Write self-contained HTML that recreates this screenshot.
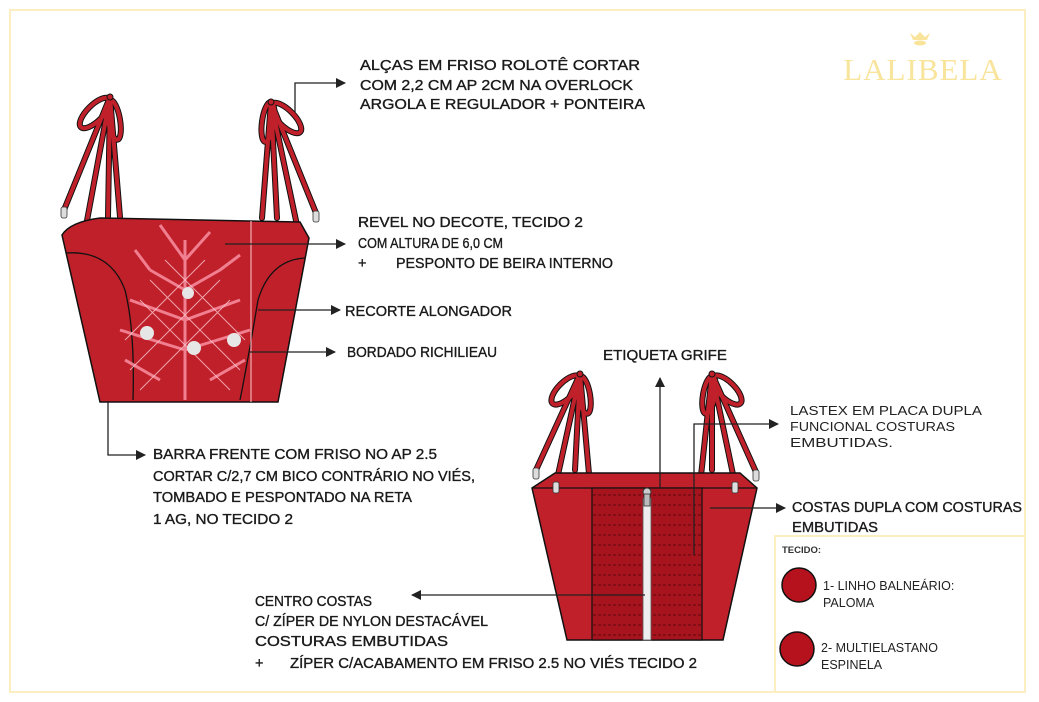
<!DOCTYPE html>
<html><head><meta charset="utf-8"><style>
body{margin:0;background:#fff;}
svg{display:block;}
.t{font-family:"Liberation Sans",sans-serif;font-size:14.5px;fill:#1a1a1a;stroke:#1a1a1a;stroke-width:0.35;}
.s{font-family:"Liberation Sans",sans-serif;font-size:12.5px;fill:#222;}
</style></head><body>
<svg width="1039" height="702" viewBox="0 0 1039 702" xmlns="http://www.w3.org/2000/svg">
<defs>
<marker id="a" markerWidth="10" markerHeight="10" refX="9" refY="5" orient="auto" markerUnits="userSpaceOnUse"><path d="M0,0 L10,5 L0,10 Z" fill="#222"/></marker>
</defs>
<rect x="0" y="0" width="1039" height="702" fill="#fff"/>
<rect x="10" y="10" width="1015" height="682" fill="none" stroke="#fbeec0" stroke-width="2"/>
<rect x="775" y="536" width="250" height="156" fill="none" stroke="#fbeec0" stroke-width="2"/>
<path d="M910,33 l5,4 l5,-5 l5,5 l5,-4 l-3,7 l-14,0 z" fill="#f8e49a"/>
<ellipse cx="920" cy="43" rx="6" ry="2.5" fill="#f8e49a"/>
<text x="923" y="80" text-anchor="middle" font-family="Liberation Serif,serif" font-size="31" fill="#f8e49a" letter-spacing="1">LALIBELA</text>

<!-- FRONT straps -->
<g stroke="#111" stroke-width="6" fill="none" stroke-linecap="round">
<path d="M110,97 L64,210 M110,97 L86,226 M110,97 L108,217 M110,97 L120,217"/>
<path d="M271,102 L262,218 M271,102 L277,218 M271,102 L298,230 M271,102 L316,213"/>
<ellipse cx="95" cy="113" rx="8" ry="20" transform="rotate(45 95 113)"/>
<ellipse cx="114" cy="120" rx="6" ry="20" transform="rotate(-10 114 120)"/>
<ellipse cx="286" cy="118" rx="8" ry="20" transform="rotate(-45 286 118)"/>
<ellipse cx="268" cy="122" rx="6" ry="20" transform="rotate(8 268 122)"/>
</g>
<g stroke="#c0202a" stroke-width="4" fill="none" stroke-linecap="round">
<path d="M110,97 L64,210 M110,97 L86,226 M110,97 L108,217 M110,97 L120,217"/>
<path d="M271,102 L262,218 M271,102 L277,218 M271,102 L298,230 M271,102 L316,213"/>
<ellipse cx="95" cy="113" rx="8" ry="20" transform="rotate(45 95 113)"/>
<ellipse cx="114" cy="120" rx="6" ry="20" transform="rotate(-10 114 120)"/>
<ellipse cx="286" cy="118" rx="8" ry="20" transform="rotate(-45 286 118)"/>
<ellipse cx="268" cy="122" rx="6" ry="20" transform="rotate(8 268 122)"/>
</g>
<circle cx="110" cy="97" r="3" fill="#c0202a" stroke="#111"/>
<circle cx="271" cy="102" r="3" fill="#c0202a" stroke="#111"/>
<g fill="#ddd" stroke="#333" stroke-width="0.8">
<rect x="61" y="207" width="6" height="11" rx="2"/><rect x="83" y="224" width="6" height="11" rx="2"/>
<rect x="313" y="211" width="6" height="11" rx="2"/><rect x="295" y="228" width="6" height="11" rx="2"/>
</g>
<path d="M62,235 Q70,222 100,218 L300,222 L309,238 L278,402 L100,402 Z" fill="#c0202a" stroke="#111" stroke-width="1.5"/>
<path d="M66,253 Q110,250 125,290 Q135,330 133,400" fill="none" stroke="#111" stroke-width="1.3"/>
<path d="M305,258 Q270,260 258,300 Q248,360 240,400" fill="none" stroke="#111" stroke-width="1.3"/>
<line x1="251" y1="221" x2="251" y2="402" stroke="#f3b0b5" stroke-width="1.2"/>
<g stroke="#f58a9b" stroke-width="3" fill="none" opacity="0.9">
<path d="M185,400 L185,240 M185,260 L160,225 M185,260 L210,232 M185,290 L150,270 M185,290 L220,270 M185,320 L130,300 M185,320 L240,300 M185,350 L120,330 M185,350 L250,330 M160,380 L125,360 M210,380 L245,360 M150,270 L135,250 M220,270 L240,255"/>
</g>
<g stroke="#f9c5cd" stroke-width="1" fill="none" opacity="0.8">
<path d="M140,300 L230,390 M150,280 L240,370 M165,260 L245,340 M230,300 L140,390 M220,280 L130,370 M205,260 L125,340"/>
</g>
<g fill="#e6e6e6">
<circle cx="147" cy="333" r="7"/><circle cx="194" cy="348" r="7"/><circle cx="234" cy="340" r="7"/><circle cx="188" cy="293" r="6"/>
</g>

<!-- BACK straps -->
<g stroke="#111" stroke-width="6" fill="none" stroke-linecap="round">
<path d="M580,374 L536,470 M580,374 L556,484 M580,374 L575,470 M580,374 L590,485"/>
<path d="M712,374 L700,485 M712,374 L712,470 M712,374 L735,484 M712,374 L756,472"/>
<ellipse cx="566" cy="390" rx="8" ry="19" transform="rotate(45 566 390)"/>
<ellipse cx="584" cy="395" rx="6" ry="19" transform="rotate(-10 584 395)"/>
<ellipse cx="727" cy="390" rx="8" ry="19" transform="rotate(-45 727 390)"/>
<ellipse cx="709" cy="395" rx="6" ry="19" transform="rotate(10 709 395)"/>
</g>
<g stroke="#c0202a" stroke-width="4" fill="none" stroke-linecap="round">
<path d="M580,374 L536,470 M580,374 L556,484 M580,374 L575,470 M580,374 L590,485"/>
<path d="M712,374 L700,485 M712,374 L712,470 M712,374 L735,484 M712,374 L756,472"/>
<ellipse cx="566" cy="390" rx="8" ry="19" transform="rotate(45 566 390)"/>
<ellipse cx="584" cy="395" rx="6" ry="19" transform="rotate(-10 584 395)"/>
<ellipse cx="727" cy="390" rx="8" ry="19" transform="rotate(-45 727 390)"/>
<ellipse cx="709" cy="395" rx="6" ry="19" transform="rotate(10 709 395)"/>
</g>
<circle cx="580" cy="374" r="3" fill="#c0202a" stroke="#111"/>
<circle cx="712" cy="374" r="3" fill="#c0202a" stroke="#111"/>
<path d="M532,488 L555,473 L740,473 L757,488 L723,640 L567,640 Z" fill="#c0202a" stroke="#111" stroke-width="1.5"/>
<line x1="532" y1="488" x2="757" y2="488" stroke="#111" stroke-width="1.2"/>
<g fill="#ddd" stroke="#333" stroke-width="0.8">
<rect x="533" y="468" width="6" height="11" rx="2"/><rect x="553" y="482" width="6" height="11" rx="2"/>
<rect x="753" y="470" width="6" height="11" rx="2"/><rect x="732" y="482" width="6" height="11" rx="2"/>
</g>
<rect x="592" y="488" width="110" height="152" fill="#a8141e" stroke="#111" stroke-width="1.2"/>
<g stroke="#6e0a10" stroke-width="1.2" fill="none">
<path d="M593,495 H701 M593,505 H701 M593,515 H701 M593,525 H701 M593,535 H701 M593,545 H701 M593,555 H701 M593,565 H701 M593,575 H701 M593,585 H701 M593,595 H701 M593,605 H701 M593,615 H701 M593,625 H701 M593,635 H701" stroke-dasharray="3,2"/>
</g>
<rect x="643" y="498" width="8" height="142" fill="#eee" stroke="#555" stroke-width="0.8"/>
<circle cx="647" cy="492" r="4" fill="#ccc" stroke="#333"/>
<rect x="644" y="494" width="6" height="12" fill="#bbb" stroke="#333" stroke-width="0.8"/>

<g stroke="#222" stroke-width="1.3" fill="none">
<path d="M295,112 V83 H345" marker-end="url(#a)"/>
<path d="M225,244 H345" marker-end="url(#a)"/>
<path d="M258,310 H340" marker-end="url(#a)"/>
<path d="M250,352 H335" marker-end="url(#a)"/>
<path d="M108,402 V455 H145" marker-end="url(#a)"/>
<path d="M660,488 V378" marker-end="url(#a)"/>
<path d="M694,555 V424 H778" marker-end="url(#a)"/>
<path d="M710,508 H785" marker-end="url(#a)"/>
<path d="M645,595 H412" marker-end="url(#a)"/>
</g>

<text class="t" x="360" y="70" textLength="280" lengthAdjust="spacingAndGlyphs">ALÇAS EM FRISO ROLOTÊ  CORTAR</text>
<text class="t" x="360" y="90" textLength="273" lengthAdjust="spacingAndGlyphs">COM 2,2 CM AP 2CM NA OVERLOCK</text>
<text class="t" x="360" y="109" textLength="285" lengthAdjust="spacingAndGlyphs">ARGOLA E REGULADOR + PONTEIRA</text>
<text class="t" x="358" y="227" textLength="225" lengthAdjust="spacingAndGlyphs">REVEL NO DECOTE,  TECIDO 2</text>
<text class="t" x="358" y="248" textLength="145" lengthAdjust="spacingAndGlyphs">COM ALTURA DE 6,0 CM</text>
<text class="t" x="358" y="268">+</text>
<text class="t" x="396" y="268" textLength="217" lengthAdjust="spacingAndGlyphs">PESPONTO DE BEIRA INTERNO</text>
<text class="t" x="345" y="316" textLength="167" lengthAdjust="spacingAndGlyphs">RECORTE ALONGADOR</text>
<text class="t" x="347" y="357" textLength="150" lengthAdjust="spacingAndGlyphs">BORDADO RICHILIEAU</text>
<text class="t" x="153" y="459" textLength="284" lengthAdjust="spacingAndGlyphs">BARRA FRENTE COM FRISO NO AP 2.5</text>
<text class="t" x="153" y="481" textLength="322" lengthAdjust="spacingAndGlyphs">CORTAR C/2,7 CM BICO CONTRÁRIO NO VIÉS,</text>
<text class="t" x="153" y="502" textLength="259" lengthAdjust="spacingAndGlyphs">TOMBADO E PESPONTADO NA RETA</text>
<text class="t" x="153" y="524" textLength="140" lengthAdjust="spacingAndGlyphs">1 AG, NO TECIDO 2</text>
<text class="t" x="603" y="360" textLength="124" lengthAdjust="spacingAndGlyphs">ETIQUETA GRIFE</text>
<text class="s" x="790" y="415" textLength="192" lengthAdjust="spacingAndGlyphs">LASTEX EM PLACA DUPLA</text>
<text class="s" x="790" y="431" textLength="165" lengthAdjust="spacingAndGlyphs">FUNCIONAL COSTURAS</text>
<text class="s" x="790" y="447" textLength="103" lengthAdjust="spacingAndGlyphs">EMBUTIDAS.</text>
<text class="t" x="792" y="512" textLength="230" lengthAdjust="spacingAndGlyphs">COSTAS DUPLA COM COSTURAS</text>
<text class="t" x="792" y="532" textLength="86" lengthAdjust="spacingAndGlyphs">EMBUTIDAS</text>
<text class="t" x="255" y="606" textLength="117" lengthAdjust="spacingAndGlyphs">CENTRO COSTAS</text>
<text class="t" x="255" y="626" textLength="233" lengthAdjust="spacingAndGlyphs">C/ ZÍPER DE NYLON DESTACÁVEL</text>
<text class="t" x="255" y="646" textLength="193" lengthAdjust="spacingAndGlyphs">COSTURAS EMBUTIDAS</text>
<text class="t" x="255" y="668">+</text>
<text class="t" x="290" y="668" textLength="407" lengthAdjust="spacingAndGlyphs">ZÍPER C/ACABAMENTO EM FRISO 2.5 NO VIÉS TECIDO 2</text>
<text x="782" y="553" font-family="Liberation Sans,sans-serif" font-size="9.5" font-weight="bold" fill="#333">TECIDO:</text>
<circle cx="799" cy="585" r="17" fill="#b5121e" stroke="#111" stroke-width="1.5"/>
<circle cx="797" cy="649" r="17" fill="#b5121e" stroke="#111" stroke-width="1.5"/>
<text class="s" x="823" y="590">1- LINHO BALNEÁRIO:</text>
<text class="s" x="823" y="607">PALOMA</text>
<text class="s" x="821" y="652">2- MULTIELASTANO</text>
<text class="s" x="821" y="669">ESPINELA</text>
</svg>
</body></html>
